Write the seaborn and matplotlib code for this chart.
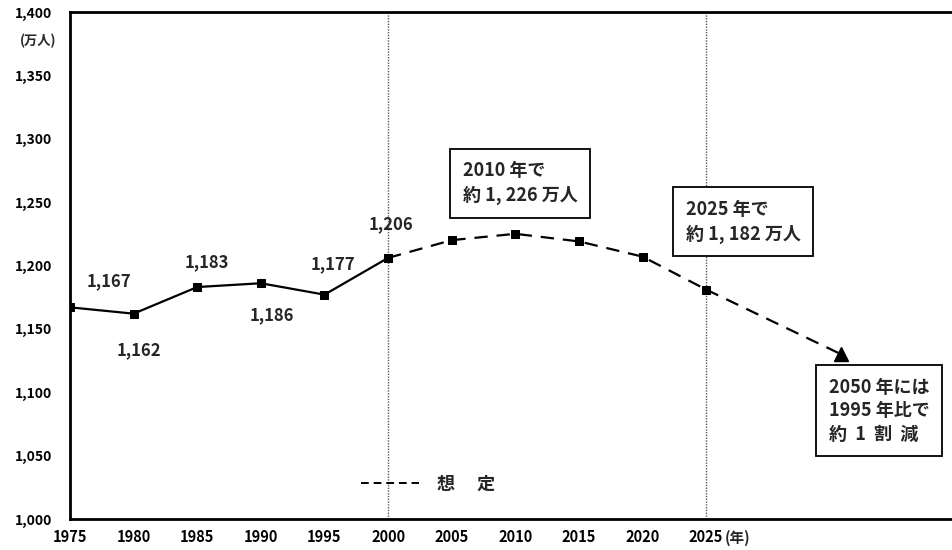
import matplotlib
matplotlib.use("Agg")
import matplotlib.pyplot as plt
from matplotlib.lines import Line2D
import seaborn as sns
import pandas as pd

# Recorded population (10,000 persons)
years_actual = [1975, 1980, 1985, 1990, 1995, 2000]
pop_actual = [1167, 1162, 1183, 1186, 1177, 1206]

# Projection
years_proj = [2000, 2005, 2010, 2015, 2020, 2025]
pop_proj = [1206, 1220, 1225, 1219, 1207, 1181]

# 2050 point, drawn on a compressed axis position to the right of 2025
x_2050 = 2035.6
pop_2050 = 1130

x_ticks = [1975, 1980, 1985, 1990, 1995, 2000, 2005, 2010, 2015, 2020, 2025]
y_ticks = [1000, 1050, 1100, 1150, 1200, 1250, 1300, 1350, 1400]

# Label offsets (points) for the recorded values
label_offsets = [(28, 19), (4, -26), (7, 18), (8, -23), (6, 22), (2, 24)]

sns.set_style("white")
plt.rcParams["font.family"] = ["Noto Sans CJK JP", "DejaVu Sans"]
plt.rcParams["font.weight"] = "bold"

fig = plt.figure(figsize=(9.53, 5.5), dpi=100)
ax = fig.add_axes([70 / 953, 31 / 550, 883 / 953, 507 / 550])

df_a = pd.DataFrame({"year": years_actual, "pop": pop_actual})
df_p = pd.DataFrame({"year": years_proj, "pop": pop_proj})
df_e = pd.DataFrame({"year": [years_proj[-1], x_2050], "pop": [pop_proj[-1], pop_2050]})

sns.lineplot(data=df_a, x="year", y="pop", ax=ax, color="black", lw=1.6,
             marker="s", markersize=6, markeredgecolor="black")
sns.lineplot(data=df_p, x="year", y="pop", ax=ax, color="black", lw=1.6,
             marker="s", markersize=6, markeredgecolor="black",
             linestyle=(0, (6, 4)))
sns.lineplot(data=df_e, x="year", y="pop", ax=ax, color="black", lw=1.6,
             linestyle=(0, (6, 4)))
ax.plot([x_2050], [pop_2050], marker="^", markersize=10, color="black", ls="none")

for x in (2000, 2025):
    ax.axvline(x, color="0.35", lw=1.0, ls=(0, (1, 1)), zorder=0)

for x, y, off in zip(years_actual, pop_actual, label_offsets):
    ax.annotate(f"{y:,}", xy=(x, y), xytext=off, textcoords="offset points",
                ha="center", va="center", fontsize=12)

box = dict(boxstyle="square,pad=0.7", fc="white", ec="black", lw=1.3)
ax.text(2010.4, 1265, "2010 年で\n約 1, 226 万人", ha="center", va="center",
        multialignment="left", fontsize=13, bbox=box, linespacing=1.35)
ax.text(2027.9, 1234.5, "2025 年で\n約 1, 182 万人", ha="center", va="center",
        multialignment="left", fontsize=13, bbox=box, linespacing=1.35)
ax.text(2038.6, 1085.5, "2050 年には\n1995 年比で\n約  1  割  減", ha="center", va="center",
        multialignment="left", fontsize=13, bbox=box, linespacing=1.3)

ax.legend(handles=[Line2D([], [], color="black", lw=1.4, ls=(0, (4, 2.5)))],
          labels=["想　 定"], frameon=False, fontsize=13, handlelength=3.2,
          loc="center", bbox_to_anchor=((428 - 70) / 883, 0.069),
          handletextpad=1.0)

ax.set_xlim(1975, 2044.4)
ax.set_ylim(1000, 1400)
ax.set_xticks(x_ticks)
ax.set_xticklabels([str(t) for t in x_ticks], fontsize=10.5)
ax.set_yticks(y_ticks)
ax.set_yticklabels([f"{t:,}" for t in y_ticks], fontsize=10)
ax.tick_params(axis="both", direction="in", length=5, width=1.3, colors="black")
ax.tick_params(axis="y", pad=13)
ax.tick_params(axis="x", pad=7)
ax.set_xlabel("")
ax.set_ylabel("")

for side in ("left", "bottom", "top"):
    ax.spines[side].set_visible(True)
    ax.spines[side].set_color("black")
    ax.spines[side].set_linewidth(2)
ax.spines["right"].set_visible(False)

fig.text(38 / 953, 1 - 41 / 550, "(万人)", ha="center", va="center", fontsize=9.5)
fig.text(738 / 953, 1 - 538 / 550, "(年)", ha="center", va="center", fontsize=10.5)

fig.savefig("out.png", dpi=100)
